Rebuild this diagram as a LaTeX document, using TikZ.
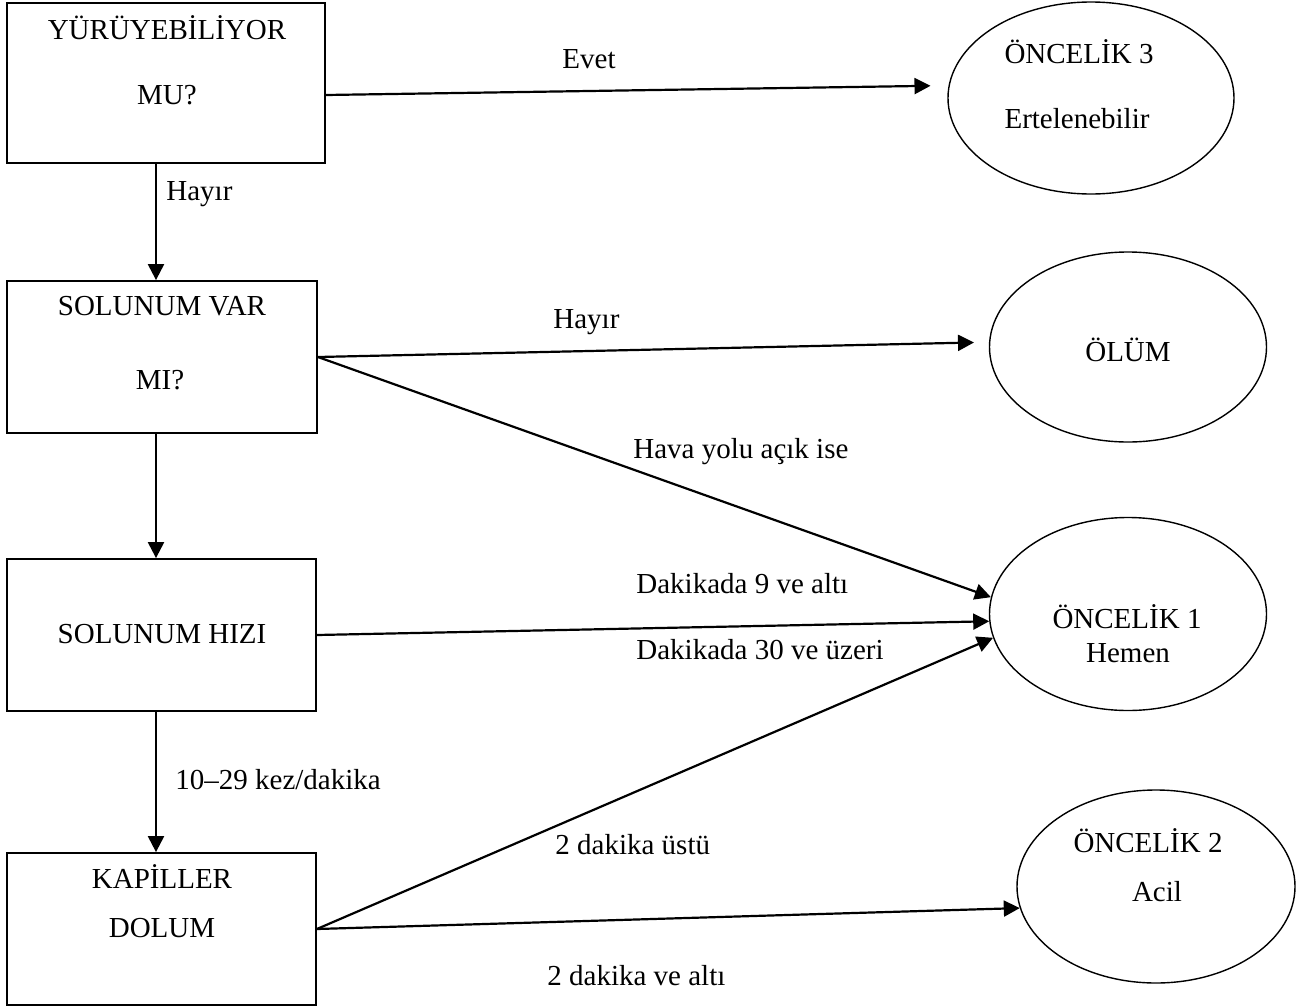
\documentclass[tikz,border=0pt]{standalone}
\usepackage{fontspec}
\setmainfont{Liberation Serif}
\usetikzlibrary{shapes.geometric, arrows.meta, positioning}

\begin{document}
\begin{tikzpicture}[x=0.5pt, y=-0.5pt,
    font=\fontsize{14.5pt}{17pt}\selectfont,
    box/.style={rectangle, draw=black, line width=0.9pt, inner sep=0pt},
    oval/.style={ellipse, draw=black, line width=0.7pt, inner sep=0pt},
    txt/.style={inner sep=0pt, text height=0.66em, text depth=0pt},
    lbl/.style={txt, anchor=west},
    link/.style={line width=1.1pt, -{Triangle[length=8pt,width=8pt]}}]

\useasboundingbox (0,0) rectangle (1296,1007);

% question boxes
\node[box, minimum width=159pt, minimum height=80pt] (walk) at (166,83) {};
\node[box, minimum width=155pt, minimum height=76pt] (breath) at (162,357) {};
\node[box, minimum width=154.5pt, minimum height=76pt] (rate) at (161.5,635) {};
\node[box, minimum width=154.5pt, minimum height=76pt] (refill) at (161.5,929) {};

\node[txt] (walkA) at (167,33) {YÜRÜYEBİLİYOR};
\node[txt] (walkB) at (167,98) {MU?};
\node[txt] (breathA) at (162,309) {SOLUNUM VAR};
\node[txt] (breathB) at (160,383) {MI?};
\node[txt] (rateA) at (162,637) {SOLUNUM HIZI};
\node[txt] (refillA) at (162,882) {KAPİLLER};
\node[txt] (refillB) at (162,931) {DOLUM};

% outcomes
\node[oval, minimum width=143pt, minimum height=96pt] (prio3) at (1091,98) {};
\node[oval, minimum width=138.5pt, minimum height=95pt] (death) at (1128,347) {};
\node[oval, minimum width=138.5pt, minimum height=96.5pt] (prio1) at (1128,614) {};
\node[oval, minimum width=139pt, minimum height=96.5pt] (prio2) at (1156,886.5) {};

\node[txt] (prio3A) at (1079,57) {ÖNCELİK 3};
\node[txt] (prio3B) at (1077,122) {Ertelenebilir};
\node[txt] (deathA) at (1128,355) {ÖLÜM};
\node[txt] (prio1A) at (1127,622) {ÖNCELİK 1};
\node[txt] (prio1B) at (1128,656) {Hemen};
\node[txt] (prio2A) at (1148,846) {ÖNCELİK 2};
\node[txt] (prio2B) at (1157,895) {Acil};

% connectors
\coordinate (spine) at (156,0);
\draw[link] (walk.south -| spine) -- (breath.north -| spine);
\draw[link] (breath.south -| spine) -- (rate.north -| spine);
\draw[link] (rate.south -| spine) -- (refill.north -| spine);
\draw[link, shorten >=9pt] ([yshift=-6pt]walk.east) -- (prio3.175);
\draw[link, shorten >=7.5pt] (breath.east) -- (death.178);
\draw[link] (breath.east) -- (prio1.173);
\draw[link] (rate.east) -- (prio1.183);
\draw[link] (refill.east) -- (prio1.190);
\draw[link] (refill.east) -- (prio2.189);

% labels
\node[lbl] (evet) at (562,62) {Evet};
\node[lbl] (noWalk) at (166,194) {Hayır};
\node[lbl] (noBreath) at (553,322) {Hayır};
\node[lbl] (airway) at (633,452) {Hava yolu açık ise};
\node[lbl] (slow) at (636,587) {Dakikada 9 ve altı};
\node[lbl] (fast) at (636,653) {Dakikada 30 ve üzeri};
\node[lbl] (normal) at (175,782.5) {10–29 kez/dakika};
\node[lbl] (late) at (555,848) {2 dakika üstü};
\node[lbl] (quick) at (547,979) {2 dakika ve altı};

\end{tikzpicture}
\end{document}
